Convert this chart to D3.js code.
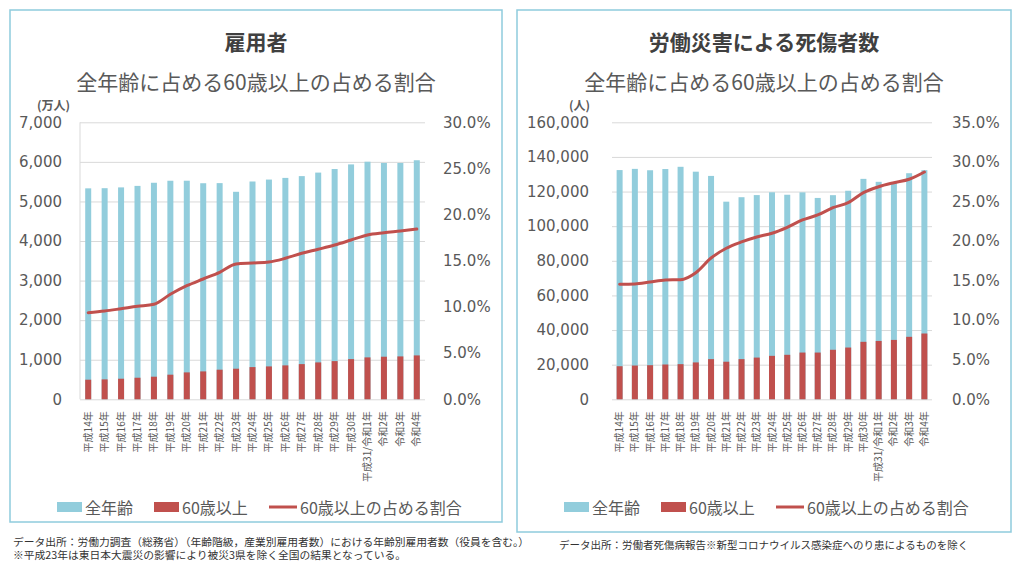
<!DOCTYPE html>
<html><head><meta charset="utf-8">
<script src="https://cdn.jsdelivr.net/npm/d3@7/dist/d3.min.js"></script>
<style>
html,body{margin:0;padding:0;background:#fff;}
svg{display:block;}
</style></head>
<body>
<svg id="chart" width="1024" height="565"></svg>
<script>
// ---- data ----
const categories = ["平成14年","平成15年","平成16年","平成17年","平成18年","平成19年","平成20年","平成21年","平成22年","平成23年","平成24年","平成25年","平成26年","平成27年","平成28年","平成29年","平成30年","平成31/令和1年","令和2年","令和3年","令和4年"];

// 雇用者 (万人)
const empAll    = [5331,5335,5355,5393,5472,5523,5524,5460,5463,5244,5504,5553,5595,5640,5729,5819,5936,6004,5973,5973,6041];
const empSenior = [495,503,520,545,571,622,680,705,748,773,814,831,857,889,932,965,1016,1059,1076,1084,1109];
const empRatio  = [9.38,9.56,9.81,10.07,10.29,11.37,12.30,13.03,13.75,14.65,14.76,14.87,15.27,15.81,16.25,16.71,17.25,17.80,18.04,18.23,18.44];

// 労働災害による死傷者数 (人)
const injAll    = [132400,133100,132300,133000,134298,131478,129026,114152,116733,117958,119576,118157,119535,116311,117910,120460,127329,125611,125115,130586,132355];
const injSenior = [19100,19500,19700,20100,20300,21300,23200,21700,23200,24100,25100,25700,27000,27000,28600,29900,33200,33700,34300,36100,38000];
const injRatio  = [14.53,14.57,14.82,15.07,15.11,16.00,17.85,19.08,19.88,20.51,20.98,21.73,22.66,23.29,24.21,24.84,26.11,26.86,27.37,27.80,28.72];

const empLeftTicks  = [0,1000,2000,3000,4000,5000,6000,7000];
const empRightTicks = [0,5,10,15,20,25,30];
const injLeftTicks  = [0,20000,40000,60000,80000,100000,120000,140000,160000];
const injRightTicks = [0,5,10,15,20,25,30,35];

const legendLabels = ["全年齢","60歳以上","60歳以上の占める割合"];
const titles = ["雇用者","労働災害による死傷者数"];
const subtitle = "全年齢に占める60歳以上の占める割合";
const units = ["(万人)","(人)"];
const footLeft = ["データ出所：労働力調査（総務省）（年齢階級，産業別雇用者数）における年齢別雇用者数（役員を含む。）",
                  "※平成23年は東日本大震災の影響により被災3県を除く全国の結果となっている。"];
const footRight = ["データ出所：労働者死傷病報告※新型コロナウイルス感染症へのり患によるものを除く"];

// ---- styles ----
const BLUE = "#92CDDC", RED = "#C0504D", GRID = "#d9d9d9", TXT = "#595959";
const JP = "'Noto Sans CJK JP','Noto Sans',sans-serif";
const NUM = "'DejaVu Sans','Noto Sans',sans-serif";

const svg = d3.select("#chart");

const panels = [
  {box:{x:10,y:10,w:492,h:512}, plot:{x0:80,x1:425,y0:122.3,y1:399.3},
   all:empAll, senior:empSenior, ratio:empRatio, lt:empLeftTicks, rt:empRightTicks,
   lMax:7000, rMax:30, title:titles[0], unit:units[0], unitX:70, lPad:18, rPad:18, axisLine:true,
   legendX:57},
  {box:{x:517,y:10,w:494,h:522}, plot:{x0:612,x1:932,y0:122.3,y1:399.3},
   all:injAll, senior:injSenior, ratio:injRatio, lt:injLeftTicks, rt:injRightTicks,
   lMax:160000, rMax:35, title:titles[1], unit:units[1], unitX:590, lPad:23, rPad:20, axisLine:false,
   legendX:564}
];

panels.forEach(p => {
  const g = svg.append("g");
  g.append("rect").attr("x",p.box.x).attr("y",p.box.y).attr("width",p.box.w).attr("height",p.box.h)
    .attr("fill","#fff").attr("stroke","#8FCBDD").attr("stroke-width",1.5);

  const cx = p.box.x + p.box.w/2;
  g.append("text").attr("x",cx).attr("y",41).attr("text-anchor","middle").attr("dominant-baseline","central")
    .style("font-family",JP).style("font-size","21px").style("font-weight","bold").style("fill","#404040").text(p.title);
  g.append("text").attr("x",cx).attr("y",81).attr("text-anchor","middle").attr("dominant-baseline","central")
    .style("font-family",JP).style("font-size","21px").style("fill",TXT).text(subtitle);
  g.append("text").attr("x",p.unitX).attr("y",104).attr("text-anchor","end").attr("dominant-baseline","central")
    .style("font-family",JP).style("font-size","12px").style("font-weight","bold").style("fill",TXT).text(p.unit);

  const {x0,x1,y0,y1} = p.plot;
  const pi = p.axisLine ? 0.635 : 0.607;
  const x = d3.scaleBand().domain(categories).range([x0,x1]).paddingInner(pi).paddingOuter(pi/2);
  const yL = d3.scaleLinear().domain([0,p.lMax]).range([y1,y0]);
  const yR = d3.scaleLinear().domain([0,p.rMax]).range([y1,y0]);

  // gridlines
  const grid = g.append("g").attr("transform",`translate(${x0},0)`)
    .call(d3.axisLeft(yL).tickValues(p.lt).tickSize(-(x1-x0)).tickFormat(""));
  grid.select(".domain").remove();
  grid.selectAll("line").attr("stroke",GRID).attr("stroke-width",1);

  if (p.axisLine) {
    g.append("line").attr("x1",x0).attr("x2",x0).attr("y1",y0).attr("y2",y1).attr("stroke",GRID).attr("stroke-width",1);
  }

  // left axis labels
  const la = g.append("g").attr("transform",`translate(${x0},0)`)
    .call(d3.axisLeft(yL).tickValues(p.lt).tickSize(0).tickPadding(p.lPad).tickFormat(d3.format(",")));
  la.select(".domain").remove();
  la.selectAll("text").style("font-family",NUM).style("font-size","15px").style("fill",TXT);

  // right axis labels
  const ra = g.append("g").attr("transform",`translate(${x1},0)`)
    .call(d3.axisRight(yR).tickValues(p.rt).tickSize(0).tickPadding(p.rPad).tickFormat(d => d3.format(".1f")(d)+"%"));
  ra.select(".domain").remove();
  ra.selectAll("text").style("font-family",NUM).style("font-size","15px").style("fill",TXT);

  // bars
  g.append("g").selectAll("rect").data(p.all).join("rect")
    .attr("x",(d,i)=>x(categories[i])).attr("width",x.bandwidth())
    .attr("y",d=>yL(d)).attr("height",d=>y1-yL(d)).attr("fill",BLUE);
  g.append("g").selectAll("rect").data(p.senior).join("rect")
    .attr("x",(d,i)=>x(categories[i])).attr("width",x.bandwidth())
    .attr("y",d=>yL(d)).attr("height",d=>y1-yL(d)).attr("fill",RED);

  // line
  const line = d3.line().x((d,i)=>x(categories[i])+x.bandwidth()/2).y(d=>yR(d)).curve(d3.curveMonotoneX);
  g.append("path").datum(p.ratio).attr("d",line).attr("fill","none").attr("stroke",RED)
    .attr("stroke-width",3).attr("stroke-linejoin","round").attr("stroke-linecap","round");

  // x axis
  const xa = g.append("g").attr("transform",`translate(0,${y1})`)
    .call(d3.axisBottom(x).tickSize(0));
  xa.select(".domain").remove();
  xa.selectAll("text").attr("transform","rotate(-90)").attr("x",-12).attr("y",0).attr("dy","0.35em")
    .attr("text-anchor","end").style("font-family",JP).style("font-size","10px").style("fill",TXT);

  // legend
  const lg = g.append("g").attr("transform",`translate(${p.legendX},507)`);
  const offs = [0,97,212];
  legendLabels.forEach((lab,k) => {
    const it = lg.append("g").attr("transform",`translate(${offs[k]},0)`);
    if (k < 2) {
      it.append("rect").attr("x",0).attr("y",-5).attr("width",25).attr("height",10).attr("fill",k===0?BLUE:RED);
    } else {
      it.append("line").attr("x1",0).attr("x2",28).attr("y1",0).attr("y2",0).attr("stroke",RED).attr("stroke-width",3);
    }
    it.append("text").attr("x",k<2?28:31).attr("y",0).attr("dominant-baseline","central")
      .style("font-family",JP).style("font-size","16px").style("fill",TXT).text(lab);
  });
});

// footnotes
svg.append("g").selectAll("text").data(footLeft).join("text")
  .attr("x",13).attr("y",(d,i)=>541+i*13).attr("dominant-baseline","central")
  .style("font-family",JP).style("font-size","10.75px").style("fill","#333").text(d=>d);
svg.append("g").selectAll("text").data(footRight).join("text")
  .attr("x",559).attr("y",544).attr("dominant-baseline","central")
  .style("font-family",JP).style("font-size","10.5px").style("fill","#333").text(d=>d);
</script>
</body></html>
